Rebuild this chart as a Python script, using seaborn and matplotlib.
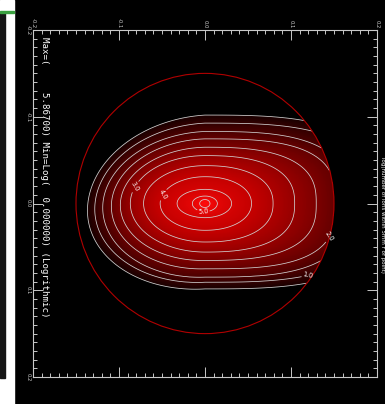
import numpy as np
import matplotlib
matplotlib.use("Agg")
import matplotlib.pyplot as plt
from matplotlib.patches import Circle, Rectangle
from matplotlib.ticker import MultipleLocator, FixedLocator
import seaborn as sns

# ---------------- data ----------------
levels = [5.5, 5.0, 4.5, 4.0, 3.5, 3.0, 2.5, 2.0, 1.5, 1.0, 0.5]
peak_value = 5.867
# extent of each contour from the peak (units: 1/2590 of a data unit)
extent_left  = [16, 38, 84, 135, 185, 225, 255, 282, 308, 332, 354]
extent_right = [15, 37, 80, 140, 205, 270, 335, 393, 430, 500, 534]
extent_up    = [12, 22, 42, 80, 113, 143, 168, 193, 215, 240, 264]
extent_down  = [12, 24, 42, 80, 115, 145, 170, 195, 220, 235, 255]
shape_left   = [2.0, 2.0, 2.0, 2.0, 2.0, 2.0, 2.0, 2.0, 2.0, 2.0, 2.0]
shape_right  = [2.0, 2.0, 2.0, 2.1, 2.3, 2.5, 2.7, 3.0, 3.0, 3.0, 3.0]
tilt_left    = [0.0, 0.0, 0.0, 0.0, 0.0, 0.0, 0.02, 0.03, 0.04, 0.05, 0.06]
label_levels = [1.0, 2.0, 3.0, 4.0, 5.0]
tick_values = [-0.2, -0.1, 0.0, 0.1, 0.2]
tick_labels = ["-0.2", "-0.1", "0.0", "0.1", "0.2"]
circle_radius = 0.15
title_text = "Max=(     5.86700) Min=Log(  0.000000) (Logrithmic)"
side_text = "log(number of ions within 5mm r of point)"

# ---------------- build field ----------------
unit = 1.0 / 2590.0
xs = np.linspace(-0.2, 0.2, 601)
X, Y = np.meshgrid(xs, xs)          # y positive = downward on screen (inverted axis)
R = np.hypot(X, Y)
Rs = np.where(R == 0, 1e-9, R)

RB = []
for k in range(len(levels)):
    a = np.where(X < 0, extent_left[k], extent_right[k]) * unit
    Yt = np.where(X < 0, Y + tilt_left[k] * X, Y)
    b = np.where(Yt < 0, extent_up[k], extent_down[k]) * unit
    p = np.where(X < 0, shape_left[k], shape_right[k])
    s = ((np.abs(X) / a) ** p + (np.abs(Yt) / b) ** p) ** (1.0 / p)
    s = np.where(R == 0, 1e-9, s)
    RB.append(Rs / s)
RB = np.maximum.accumulate(np.stack(RB), axis=0)

vals = [peak_value] + levels
bounds = np.concatenate([np.zeros((1,) + R.shape), RB])
Z = np.full(R.shape, np.nan)
for k in range(len(vals) - 1):
    m = (R >= bounds[k]) & (R < bounds[k + 1])
    t = (R - bounds[k]) / (bounds[k + 1] - bounds[k])
    Z[m] = (vals[k] + t * (vals[k + 1] - vals[k]))[m]
out = R >= bounds[-1]
Z[out] = (0.5 - (R - bounds[-1]) / (bounds[-1] - bounds[-2]) * 0.5)[out]
Z = np.clip(Z, 0, None)

inside = R <= circle_radius
Zc = np.ma.masked_where(~inside, Z)
Zf = np.ma.masked_where((~inside) | (Z < 0.5), Z)

# ---------------- plot ----------------
sns.set_style("dark", {"axes.facecolor": "black", "figure.facecolor": "black"})
plt.rcParams["font.family"] = ["DejaVu Sans"]

fig = plt.figure(figsize=(3.85, 4.04), dpi=100)
fig.patch.set_facecolor("black")
W, H = 385.0, 404.0
# left strip artefact
fig.add_artist(Rectangle((0, 0), 14 / W, 1, transform=fig.transFigure, color="white", zorder=0))
fig.add_artist(Rectangle((0, 1 - 378 / H), 5 / W, (378 - 13) / H, transform=fig.transFigure,
                         color="#151515", zorder=1))
fig.add_artist(Rectangle((0, 1 - 13 / H), 14 / W, 1.5 / H, transform=fig.transFigure,
                         color="#3aa040", zorder=1))

ax = fig.add_axes([33 / W, 1 - 377 / H, 344 / W, 347 / H])
ax.set_facecolor("black")

cmap = sns.blend_palette(["#000000", "#620000", "#c20000", "#ff0a0a"], as_cmap=True)
ax.pcolormesh(X, Y, Zf, cmap=cmap, vmin=0, vmax=peak_value, shading="auto", zorder=1)
plain_levels = sorted(l for l in levels if l not in label_levels)
ax.contour(X, Y, Zc, levels=plain_levels, colors="#d2d2d2", linewidths=0.55, zorder=2)
cs = ax.contour(X, Y, Zc, levels=label_levels, colors="#d2d2d2", linewidths=0.55, zorder=2)
lab_pos = [(0.119, 0.081), (0.141, 0.034), (-0.084, -0.021), (-0.052, -0.012), (-0.002, 0.010)]
ax.clabel(cs, fmt="%.1f", fontsize=4.8, colors="white", inline=True,
          inline_spacing=1, manual=lab_pos)
ax.add_patch(Circle((0, 0), circle_radius, fill=False, ec="#b00000", lw=0.8, zorder=3))

ax.set_xlim(-0.2, 0.2)
ax.set_ylim(0.2, -0.2)
ax.set_aspect("auto")
ax.grid(False)

ax.xaxis.set_major_locator(FixedLocator(tick_values))
ax.yaxis.set_major_locator(FixedLocator(tick_values))
ax.set_xticklabels(tick_labels)
ax.set_yticklabels(tick_labels)
ax.xaxis.set_minor_locator(MultipleLocator(0.01))
ax.yaxis.set_minor_locator(MultipleLocator(0.01))
ax.tick_params(which="both", top=True, bottom=True, left=True, right=True,
               labeltop=True, labelbottom=False, labelleft=True, labelright=False,
               direction="in", color="#c8c8c8", width=0.7)
ax.tick_params(which="major", length=7, labelsize=3.8, labelcolor="#d0d0d0", pad=1.5)
ax.tick_params(which="minor", length=3)
for lbl in ax.get_xticklabels():
    lbl.set_rotation(-90)
for lbl in ax.get_yticklabels():
    lbl.set_rotation(-90)
    lbl.set_va("center")
for s in ax.spines.values():
    s.set_color("#c8c8c8")
    s.set_linewidth(0.8)

fig.text(44 / W, 1 - 37 / H, title_text, rotation=-90,
         ha="center", va="top", color="white", fontsize=6.6, family=["DejaVu Sans Mono"])
fig.text(382 / W, 1 - 215 / H, side_text, rotation=-90, ha="center", va="center",
         color="white", fontsize=4)

fig.savefig("out.png", dpi=100, facecolor=fig.get_facecolor())
